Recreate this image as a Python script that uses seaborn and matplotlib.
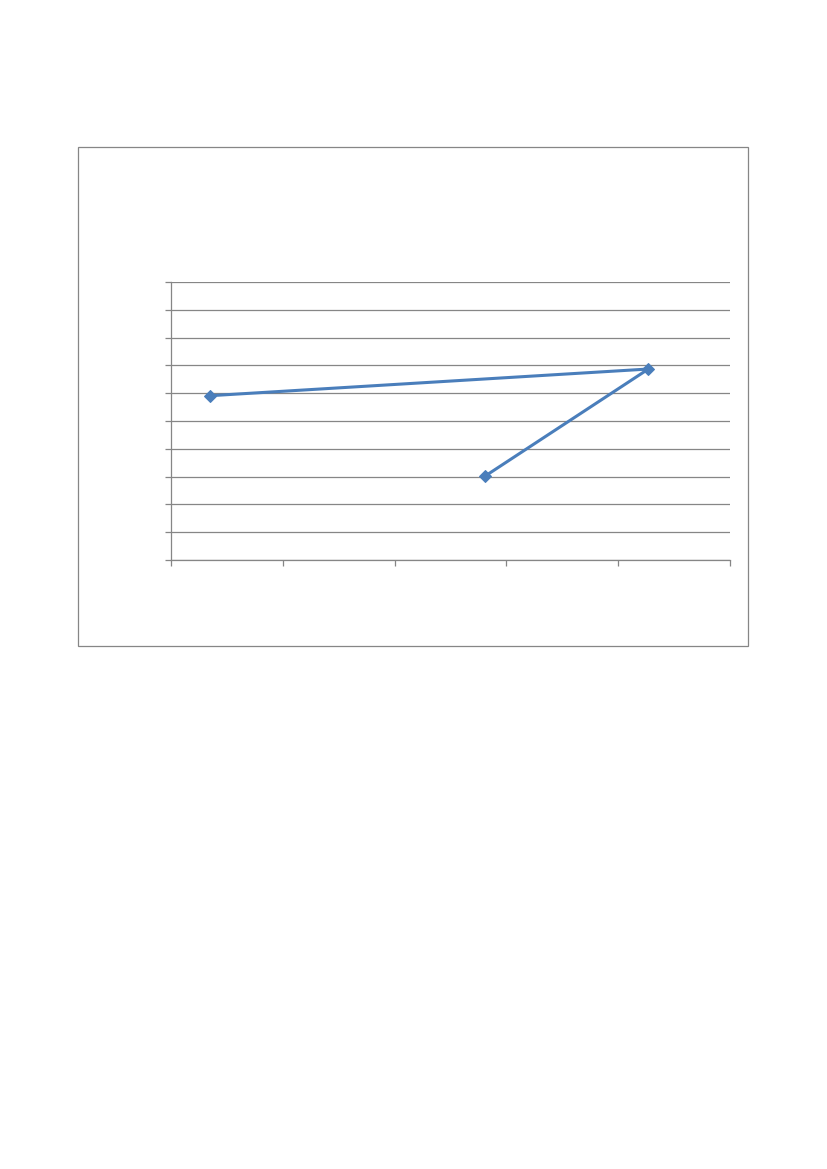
import pandas as pd
import matplotlib.pyplot as plt
import seaborn as sns
from matplotlib.patches import Rectangle

# Données
x_vals = [0.35, 4.27, 2.81]
y_vals = [5.91, 6.87, 3.02]
x_ticks = [0, 1, 2, 3, 4, 5]
y_ticks = [0, 1, 2, 3, 4, 5, 6, 7, 8, 9, 10]

df = pd.DataFrame({'x': x_vals, 'y': y_vals})

sns.set_style('white')
grid_col = '#868686'

fig = plt.figure(figsize=(8.27, 11.69), dpi=100)
W, H = 827, 1169

# Cadre du graphique
fig.patches.append(Rectangle((78 / W, 1 - 646 / H), (748 - 78) / W, (646 - 147) / H,
                             transform=fig.transFigure, fill=False,
                             edgecolor=grid_col, linewidth=0.9))

ax = fig.add_axes([171 / W, 1 - 560 / H, (730 - 171) / W, (560 - 282) / H])
sns.lineplot(data=df, x='x', y='y', sort=False, ax=ax, color='#4A7EBB',
             linewidth=2.2, marker='D', markersize=6.5, markeredgecolor='#4A7EBB')

ax.set_xlim(0, 5)
ax.set_ylim(0, 10)
ax.set_xticks(x_ticks)
ax.set_yticks(y_ticks)
ax.set_xticklabels([])
ax.set_yticklabels([])
ax.set_xlabel('')
ax.set_ylabel('')
ax.yaxis.grid(True, color=grid_col, linewidth=0.9)
ax.set_axisbelow(True)
ax.tick_params(axis='both', direction='out', length=4, width=0.9, color=grid_col,
               left=True, bottom=True)
for side in ['top', 'right']:
    ax.spines[side].set_visible(False)
for side in ['left', 'bottom']:
    ax.spines[side].set_color(grid_col)
    ax.spines[side].set_linewidth(0.9)

fig.savefig('out.png', dpi=100)
